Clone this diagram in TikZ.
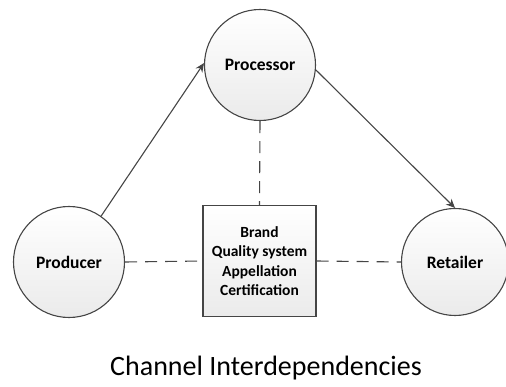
\documentclass[tikz,border=0pt]{standalone}
\usepackage{fontspec}
\setmainfont{Carlito}
\usetikzlibrary{arrows.meta}
\definecolor{edge}{HTML}{454545}
\begin{document}
\begin{tikzpicture}[x=1pt,y=-1pt,
  party/.style={circle,draw=edge,line width=1.1pt,minimum size=111pt,inner sep=0pt,
    top color=white,bottom color=black!8,font=\fontsize{17.5}{20}\selectfont\bfseries},
  hub/.style={rectangle,draw=edge,line width=1.1pt,minimum width=113pt,minimum height=111pt,
    top color=white,bottom color=black!8,align=center,inner sep=0pt,
    font=\fontsize{15.5}{19.5}\selectfont\bfseries},
  flow/.style={draw=edge,line width=1.1pt,-{Stealth[length=9pt,width=8pt]}},
  link/.style={draw=edge,line width=1.1pt,dash pattern=on 12pt off 8pt}]
\useasboundingbox (0,0) rectangle (506,387);
\node[party] (proc) at (260,65) {Processor};
\node[party] (prod) at (69,262) {Producer};
\node[party,minimum size=107pt] (ret) at (455,262) {Retailer};
\node[hub] (box) at (259.5,261) {Brand\\Quality system\\Appellation\\Certification};
\draw[flow] (prod.55) -- (proc.178);
\draw[flow] (proc.-5) -- (ret.90);
\draw[link] (proc.south) -- (box.north);
\draw[link] (prod.east) -- (box.west);
\draw[link] (box.east) -- (ret.west);
\node[font=\fontsize{28}{32}\selectfont] (title) at (266,368) {Channel Interdependencies};
\end{tikzpicture}
\end{document}
